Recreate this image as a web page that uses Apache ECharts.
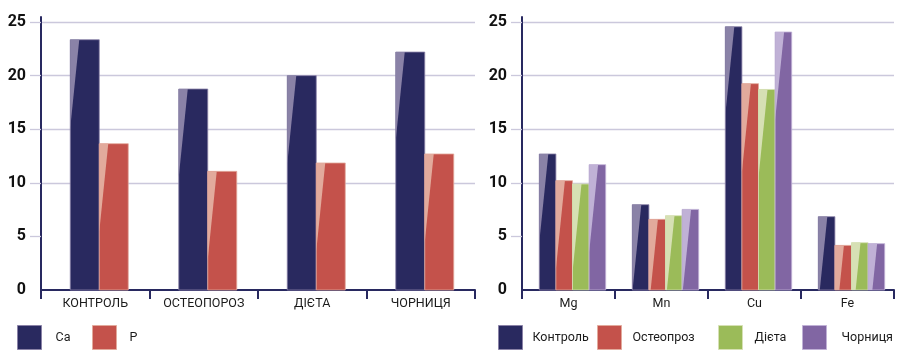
<!DOCTYPE html>
<html>
<head>
<meta charset="utf-8">
<script src="https://cdn.jsdelivr.net/npm/echarts@6/dist/echarts.min.js"></script>
<style>
html,body{margin:0;padding:0;background:#fff;}
#c{width:900px;height:364px;}
</style>
</head>
<body>
<div id="c"></div>
<script>
// ---- data ----
const leftCategories = ['КОНТРОЛЬ', 'ОСТЕОПОРОЗ', 'ДІЄТА', 'ЧОРНИЦЯ'];
const caValues = [23.35, 18.75, 20.0, 22.2];
const pValues = [13.65, 11.07, 11.85, 12.69];

const rightCategories = ['Mg', 'Mn', 'Cu', 'Fe'];
const controlValues = [12.69, 7.96, 24.56, 6.84];
const osteoValues = [10.2, 6.59, 19.25, 4.16];
const dietValues = [9.89, 6.93, 18.71, 4.41];
const bilberryValues = [11.69, 7.52, 24.07, 4.32];

const yTicks = [0, 5, 10, 15, 20, 25];
const yAxisMax = 25.47; // axis line runs slightly above the last tick

// ---- styles ----
const NAVY = '#29295f', NAVY_L = '#8a82a7';
const RED = '#c4524b', RED_L = '#e2aa9c';
const GREEN = '#9bbb59', GREEN_L = '#d6e0b4';
const PURPLE = '#8166a3', PURPLE_L = '#c0b1d6';
const AXIS = '#282960', GRID = '#cbc8dc';
const FONT = 'Roboto';

function makeRender(idx, count, bw, offset, light) {
  return function (params, api) {
    const cat = api.value(0), val = api.value(1);
    const top = api.coord([cat, val]);
    const base = api.coord([cat, 0]);
    const x0 = top[0] - count * bw / 2 + idx * bw + offset;
    const h = base[1] - top[1];
    const wedgeLen = 88, wedgeW = 9;
    let pts;
    if (h >= wedgeLen) {
      pts = [[x0, top[1]], [x0 + wedgeW, top[1]], [x0, top[1] + wedgeLen]];
    } else {
      const wb = wedgeW * (1 - h / wedgeLen);
      pts = [[x0, top[1]], [x0 + wedgeW, top[1]], [x0 + wb, base[1]], [x0, base[1]]];
    }
    return {
      type: 'group',
      children: [
        { type: 'rect', shape: { x: x0, y: top[1], width: bw, height: h },
          style: { fill: api.visual('color'), stroke: light, lineWidth: 0.8 } },
        { type: 'polygon', shape: { points: pts }, style: { fill: light } }
      ]
    };
  };
}

function toData(arr) { return arr.map((v, i) => [i, v]); }

function mkSeries(name, values, color, light, grid, idx, count, bw, offset) {
  return {
    name: name, type: 'custom', xAxisIndex: grid, yAxisIndex: grid,
    itemStyle: { color: color, borderColor: light, borderWidth: 1 },
    encode: { x: 0, y: 1 },
    data: toData(values),
    renderItem: makeRender(idx, count, bw, offset, light)
  };
}

function xAxisCfg(grid, cats) {
  return {
    type: 'category', gridIndex: grid, data: cats,
    axisLine: { lineStyle: { color: AXIS, width: 2 } },
    axisTick: { show: true, length: 9, lineStyle: { color: AXIS, width: 2 } },
    axisLabel: { fontFamily: FONT, fontSize: 12.5, color: '#1a1a1a', margin: 7 }
  };
}
function yAxisCfg(grid) {
  return {
    type: 'value', gridIndex: grid, min: 0, max: yAxisMax,
    axisLine: { show: true, lineStyle: { color: AXIS, width: 2 } },
    axisTick: { show: true, length: 11, customValues: yTicks.slice(1), lineStyle: { color: GRID, width: 1.3 } },
    splitLine: { show: true, showMinLine: false, lineStyle: { color: GRID, width: 1.3 } },
    axisLabel: { customValues: yTicks, fontFamily: FONT, fontWeight: 'bold', fontSize: 16, color: '#111', margin: 15 }
  };
}

function legendCfg(name, left, color, light, gap) {
  return {
    data: [{ name: name, icon: 'rect', itemStyle: { color: color, borderColor: light, borderWidth: 1 } }],
    left: left, top: 325, itemWidth: 24, itemHeight: 24, padding: 0,
    textStyle: { fontFamily: FONT, fontSize: 12.5, color: '#1a1a1a', padding: [0, 0, 0, gap] },
    selectedMode: false
  };
}

const chart = echarts.init(document.getElementById('c'), null, { renderer: 'canvas' });
chart.setOption({
  animation: false,
  backgroundColor: '#fff',
  grid: [
    { left: 41, top: 17, width: 434, height: 273 },
    { left: 522, top: 17, width: 372, height: 273 }
  ],
  xAxis: [xAxisCfg(0, leftCategories), xAxisCfg(1, rightCategories)],
  yAxis: [yAxisCfg(0), yAxisCfg(1)],
  legend: [
    legendCfg('Ca', 17, NAVY, NAVY_L, 9),
    legendCfg('P', 92, RED, RED_L, 8),
    legendCfg('Контроль', 498, NAVY, NAVY_L, 5),
    legendCfg('Остеопроз', 597, RED, RED_L, 6),
    legendCfg('Дієта', 718, GREEN, GREEN_L, 7),
    legendCfg('Чорниця', 802, PURPLE, PURPLE_L, 10)
  ],
  series: [
    mkSeries('Ca', caValues, NAVY, NAVY_L, 0, 0, 2, 29, 4),
    mkSeries('P', pValues, RED, RED_L, 0, 1, 2, 29, 4),
    mkSeries('Контроль', controlValues, NAVY, NAVY_L, 1, 0, 4, 16.6, 4),
    mkSeries('Остеопроз', osteoValues, RED, RED_L, 1, 1, 4, 16.6, 4),
    mkSeries('Дієта', dietValues, GREEN, GREEN_L, 1, 2, 4, 16.6, 4),
    mkSeries('Чорниця', bilberryValues, PURPLE, PURPLE_L, 1, 3, 4, 16.6, 4)
  ]
});
</script>
</body>
</html>
